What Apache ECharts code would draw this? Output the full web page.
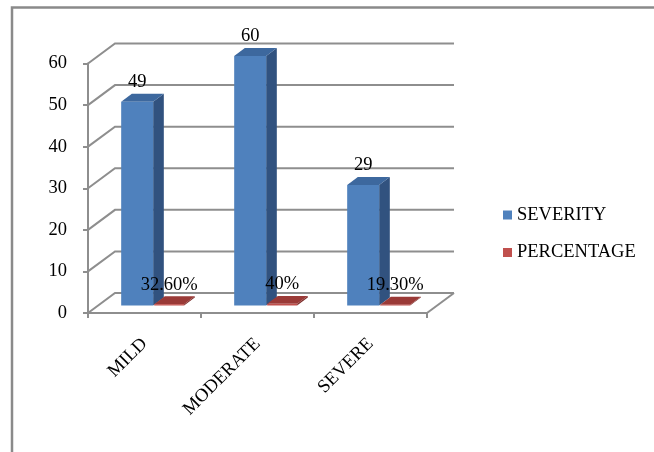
<!DOCTYPE html>
<html><head><meta charset="utf-8">
<script src="https://cdn.jsdelivr.net/npm/echarts@6/dist/echarts.min.js"></script>
<style>html,body{margin:0;padding:0;background:#fff}#c{width:654px;height:452px}</style>
</head><body><div id="c"></div>
<script>
const categories = ['MILD', 'MODERATE', 'SEVERE'];
const severity = [49, 60, 29];
const percentage = [0.326, 0.40, 0.193];
const percentageLabels = ['32.60%', '40%', '19.30%'];
const yTicks = [0, 10, 20, 30, 40, 50, 60];

const DX = 27, DY = -20;
const FONT = '"Liberation Serif", "Times New Roman", serif';
const GRID_COLOR = '#8e8e8e';

function wallItem(params, api) {
  const cs = params.coordSys;
  const v = api.value(1);
  const y = api.coord([0, v])[1];
  const x0 = cs.x, x1 = cs.x + cs.width;
  const children = [{
    type: 'polyline',
    shape: { points: [[x0, y], [x0 + DX, y + DY], [x1 + DX, y + DY]] },
    style: { stroke: GRID_COLOR, lineWidth: 2, fill: null }
  }];
  if (v === 0) {
    children.push({ type: 'line', shape: { x1: x1, y1: y, x2: x1 + DX, y2: y + DY },
      style: { stroke: GRID_COLOR, lineWidth: 2 } });
  }
  return { type: 'group', children };
}

function barRenderer(offsetFrac, widthFrac, colors, labels) {
  return function (params, api) {
    const idx = api.value(0), v = api.value(1);
    const base = api.coord([idx, 0]);
    const top = api.coord([idx, v]);
    const band = api.size([1, 0])[0];
    const d1 = 0.375, d2 = 0.77;
    const xl = base[0] + offsetFrac * band, xr = xl + widthFrac * band;
    const fx = DX * d1, fy = DY * d1, bx = DX * d2, by = DY * d2;
    const yb = base[1], yt = top[1];
    const text = labels ? labels[idx] : String(v);
    return { type: 'group', children: [
      { type: 'polygon', shape: { points: [[xr + fx, yb + fy], [xr + bx, yb + by], [xr + bx, yt + by], [xr + fx, yt + fy]] },
        style: { fill: colors[2] } },
      { type: 'polygon', shape: { points: [[xl + fx, yt + fy], [xr + fx, yt + fy], [xr + bx, yt + by], [xl + bx, yt + by]] },
        style: { fill: colors[1] } },
      { type: 'polygon', shape: { points: [[xl + fx, yb + fy], [xr + fx, yb + fy], [xr + fx, yt + fy], [xl + fx, yt + fy]] },
        style: { fill: colors[0] } },
      { type: 'text', z2: 10, style: { text: text, x: (xl + xr) / 2 + fx, y: yt + by - 11.5,
        align: 'center', verticalAlign: 'middle', fill: '#000', font: '18.5px ' + FONT } }
    ]};
  };
}

const chart = echarts.init(document.getElementById('c'), null, { renderer: 'canvas' });
chart.setOption({
  animation: false,
  backgroundColor: '#fff',
  graphic: [{ type: 'rect', shape: { x: 12, y: 7.5, width: 800, height: 600 },
    style: { fill: null, stroke: '#8a8a8a', lineWidth: 2.5 }, silent: true }],
  grid: { left: 88, top: 63.5, width: 339, height: 249.5, containLabel: false, outerBoundsMode: 'none' },
  legend: {
    orient: 'vertical', left: 503, top: 205.5, padding: 0, itemGap: 18.5,
    itemWidth: 9, itemHeight: 9, icon: 'rect',
    data: ['SEVERITY', 'PERCENTAGE'],
    textStyle: { fontFamily: FONT, fontSize: 18.5, color: '#000' }
  },
  xAxis: {
    type: 'category', data: categories,
    axisLine: { show: true, lineStyle: { color: GRID_COLOR, width: 2 } },
    axisTick: { show: true, length: 5, alignWithLabel: false, lineStyle: { color: GRID_COLOR, width: 2 } },
    axisLabel: { interval: 0, rotate: 45, margin: 28, fontFamily: FONT, fontSize: 18.5, color: '#000' },
    splitLine: { show: false }
  },
  yAxis: {
    type: 'value', min: 0, max: 60, interval: 10,
    axisLine: { show: true, lineStyle: { color: GRID_COLOR, width: 2 } },
    axisTick: { show: true, length: 5, lineStyle: { color: GRID_COLOR, width: 2 } },
    axisLabel: { margin: 21, fontFamily: FONT, fontSize: 18.5, color: '#000' },
    splitLine: { show: false }
  },
  series: [
    { type: 'custom', name: 'wall', z: 1, silent: true, renderItem: wallItem,
      data: yTicks.map(v => [0, v]), encode: { x: 0, y: 1 } },
    { type: 'custom', name: 'SEVERITY', z: 2, itemStyle: { color: '#4F81BD' },
      renderItem: barRenderer(-0.296, 0.283, ['#4F81BD', '#3D689E', '#31527F'], null),
      data: severity.map((v, i) => [i, v]), encode: { x: 0, y: 1 } },
    { type: 'custom', name: 'PERCENTAGE', z: 3, itemStyle: { color: '#C0504D' },
      renderItem: barRenderer(-0.004, 0.265, ['#C0504D', '#9A3A37', '#7E2F2D'], percentageLabels),
      data: percentage.map((v, i) => [i, v]), encode: { x: 0, y: 1 } }
  ]
});
</script></body></html>
